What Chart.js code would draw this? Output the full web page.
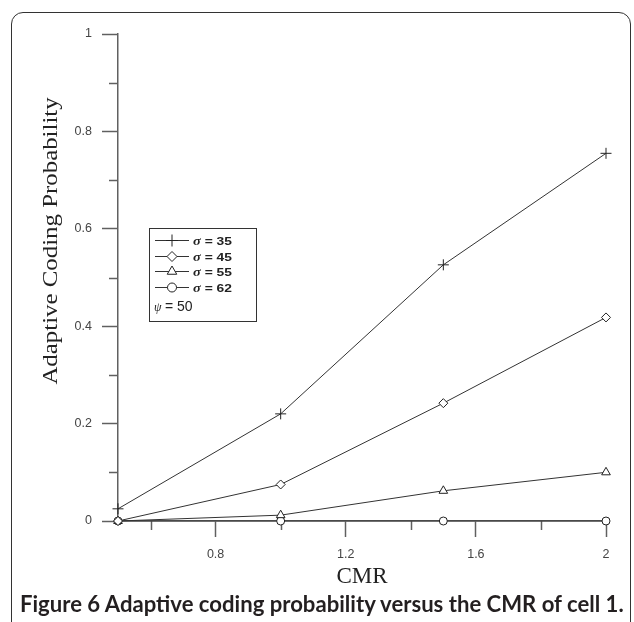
<!DOCTYPE html>
<html>
<head>
<meta charset="utf-8">
<script src="https://cdn.jsdelivr.net/npm/chart.js@4/dist/chart.umd.min.js"></script>
<style>
  html, body { margin: 0; padding: 0; background: #fff; overflow: hidden; }
  #wrap { position: relative; width: 634px; height: 622px; }
  #frame { position: absolute; left: 11px; top: 12px; width: 620px; height: 700px;
           border: 1.5px solid #333; border-radius: 12px; box-sizing: border-box; }
  #c { position: absolute; left: 0; top: 0; }
  #caption { position: absolute; left: 20px; top: 592px; white-space: nowrap;
             font-family: Lato, "Open Sans", sans-serif; font-weight: bold;
             font-size: 18px; color: #231f20; line-height: 24px; }
</style>
</head>
<body>
<div id="wrap">
  <div id="frame"></div>
  <canvas id="c" width="634" height="622"></canvas>
  <div id="caption"><span>Figure 6</span> Adaptive coding probability versus the CMR of cell 1.</div>
</div>
<script>
// ---- data ----
const cmr = [0.5, 1.0, 1.5, 2.0];
const sigma35 = [0.025, 0.22, 0.526, 0.755];
const sigma45 = [0, 0.075, 0.242, 0.418];
const sigma55 = [0, 0.012, 0.062, 0.1];
const sigma62 = [0, 0, 0, 0];
const seriesNames = ['35', '45', '55', '62'];
const psiValue = '50';
const xMajorTicks = [0.8, 1.2, 1.6, 2.0];
const xMajorLabels = ['0.8', '1.2', '1.6', '2'];
const xMinorTicks = [0.6, 1.0, 1.4, 1.8];
const yMajorTicks = [0, 0.2, 0.4, 0.6, 0.8, 1.0];
const yMajorLabels = ['0', '0.2', '0.4', '0.6', '0.8', '1'];
const yMinorTicks = [0.1, 0.3, 0.5, 0.7, 0.9];
const xTitle = 'CMR';
const yTitle = 'Adaptive Coding Probability';

// ---- styles ----
const axisColor = '#606060';
const lineColor = '#333';
const styles = [
  { pointStyle: 'cross', radius: 5.5 },
  { pointStyle: 'rectRot', radius: 4.5 },
  { pointStyle: 'triangle', radius: 5 },
  { pointStyle: 'circle', radius: 4 }
];
const seriesValues = [sigma35, sigma45, sigma55, sigma62];

const datasets = seriesValues.map((vals, i) => ({
  label: 'σ = ' + seriesNames[i],
  data: cmr.map((x, j) => ({ x: x, y: vals[j] })),
  borderColor: lineColor,
  borderWidth: 1,
  pointStyle: styles[i].pointStyle,
  pointRadius: styles[i].radius,
  pointHoverRadius: styles[i].radius,
  pointBackgroundColor: '#fff',
  pointBorderColor: '#222',
  pointBorderWidth: 1,
  tension: 0,
  clip: false
}));

function drawMarker(ctx, style, radius, x, y) {
  ctx.save();
  ctx.fillStyle = '#fff';
  ctx.strokeStyle = '#222';
  ctx.lineWidth = 1;
  Chart.helpers.drawPoint(ctx, { pointStyle: style, radius: radius, rotation: 0, borderWidth: 1 }, x, y);
  ctx.restore();
}

const extras = {
  id: 'extras',
  beforeDatasetsDraw(chart) {
    const ctx = chart.ctx;
    const xs = chart.scales.x, ys = chart.scales.y;
    ctx.save();
    ctx.strokeStyle = axisColor;
    ctx.lineWidth = 1.5;
    ctx.beginPath();
    xMinorTicks.forEach(v => {
      const px = Math.round(xs.getPixelForValue(v)) + 0.5;
      ctx.moveTo(px, xs.top);
      ctx.lineTo(px, xs.top + 9);
    });
    yMinorTicks.forEach(v => {
      const py = Math.round(ys.getPixelForValue(v)) + 0.5;
      ctx.moveTo(ys.right, py);
      ctx.lineTo(ys.right - 9, py);
    });
    ctx.stroke();
    ctx.restore();
  },
  afterDraw(chart) {
    const ctx = chart.ctx;
    const ys = chart.scales.y;
    // y axis title
    ctx.save();
    ctx.translate(51, ys.getPixelForValue(0.575));
    ctx.rotate(-Math.PI / 2);
    ctx.scale(1.13, 1);
    ctx.font = '22px "Liberation Serif", "Times New Roman", serif';
    ctx.fillStyle = '#222';
    ctx.textAlign = 'center';
    ctx.textBaseline = 'middle';
    ctx.fillText(yTitle, 0, 0);
    ctx.restore();

    // legend
    const bx = 149, by = 228, bw = 107, bh = 93;
    ctx.save();
    ctx.strokeStyle = '#333';
    ctx.lineWidth = 1;
    ctx.strokeRect(bx + 0.5, by + 0.5, bw, bh);
    const rows = [240, 256, 271, 287];
    rows.forEach((ry, i) => {
      ctx.strokeStyle = lineColor;
      ctx.lineWidth = 1;
      ctx.beginPath();
      ctx.moveTo(155, ry + 0.5);
      ctx.lineTo(189, ry + 0.5);
      ctx.stroke();
      drawMarker(ctx, styles[i].pointStyle, styles[i].radius + 0.5, 172, ry + 0.5);
      ctx.fillStyle = '#222';
      ctx.textBaseline = 'middle';
      ctx.textAlign = 'left';
      ctx.save();
      ctx.translate(193, ry + 2);
      ctx.scale(1.2, 1);
      ctx.font = 'italic bold 12px "Liberation Serif", serif';
      ctx.fillText('σ', 0, 0);
      ctx.font = 'bold 11.5px "Liberation Sans", Arial, sans-serif';
      ctx.fillText(' = ' + seriesNames[i], 6.5, 0);
      ctx.restore();
    });
    ctx.font = 'italic 12px "Liberation Serif", serif';
    ctx.fillText('ψ', 154, 308);
    ctx.font = '14px "Liberation Sans", Arial, sans-serif';
    ctx.fillText(' = ' + psiValue, 161, 307);
    ctx.restore();
  }
};

new Chart(document.getElementById('c'), {
  type: 'line',
  data: { datasets: datasets },
  plugins: [extras],
  options: {
    responsive: false,
    animation: false,
    devicePixelRatio: 1,
    layout: { padding: { left: 0, top: 34, right: 28, bottom: 31 } },
    plugins: { legend: { display: false }, tooltip: { enabled: false }, title: { display: false } },
    scales: {
      x: {
        type: 'linear',
        min: 0.5, max: 2,
        afterBuildTicks: s => { s.ticks = xMajorTicks.map(v => ({ value: v })); },
        afterFit: s => { s.height = 70; },
        ticks: {
          autoSkip: false, maxRotation: 0, padding: 10, color: '#444',
          font: { family: '"Liberation Sans", Arial, sans-serif', size: 12.5 },
          callback: (v) => { const i = xMajorTicks.findIndex(t => Math.abs(t - v) < 1e-9); return i >= 0 ? xMajorLabels[i] : ''; }
        },
        grid: { drawOnChartArea: false, drawTicks: true, tickLength: 16, tickColor: axisColor, tickWidth: 1.5 },
        border: { display: true, color: axisColor, width: 1.5 },
        title: { display: true, text: xTitle, color: '#222', padding: { top: 0, bottom: 0 },
                 font: { family: '"Liberation Serif", "Times New Roman", serif', size: 23 } }
      },
      y: {
        type: 'linear',
        min: 0, max: 1,
        afterBuildTicks: s => { s.ticks = yMajorTicks.map(v => ({ value: v })); },
        afterFit: s => { s.width = 118; },
        ticks: {
          autoSkip: false, padding: 10, color: '#444',
          font: { family: '"Liberation Sans", Arial, sans-serif', size: 12.5 },
          callback: (v) => { const i = yMajorTicks.findIndex(t => Math.abs(t - v) < 1e-9); return i >= 0 ? yMajorLabels[i] : ''; }
        },
        grid: { drawOnChartArea: false, drawTicks: true, tickLength: 16, tickColor: axisColor, tickWidth: 1.5 },
        border: { display: true, color: axisColor, width: 1.5 }
      }
    }
  }
});

// fit caption width to the figure
(function () {
  const cap = document.getElementById('caption');
  const target = 604;
  const w = cap.getBoundingClientRect().width;
  if (w > 0) cap.style.fontSize = (18 * target / w).toFixed(2) + 'px';
})();
</script>
</body>
</html>
